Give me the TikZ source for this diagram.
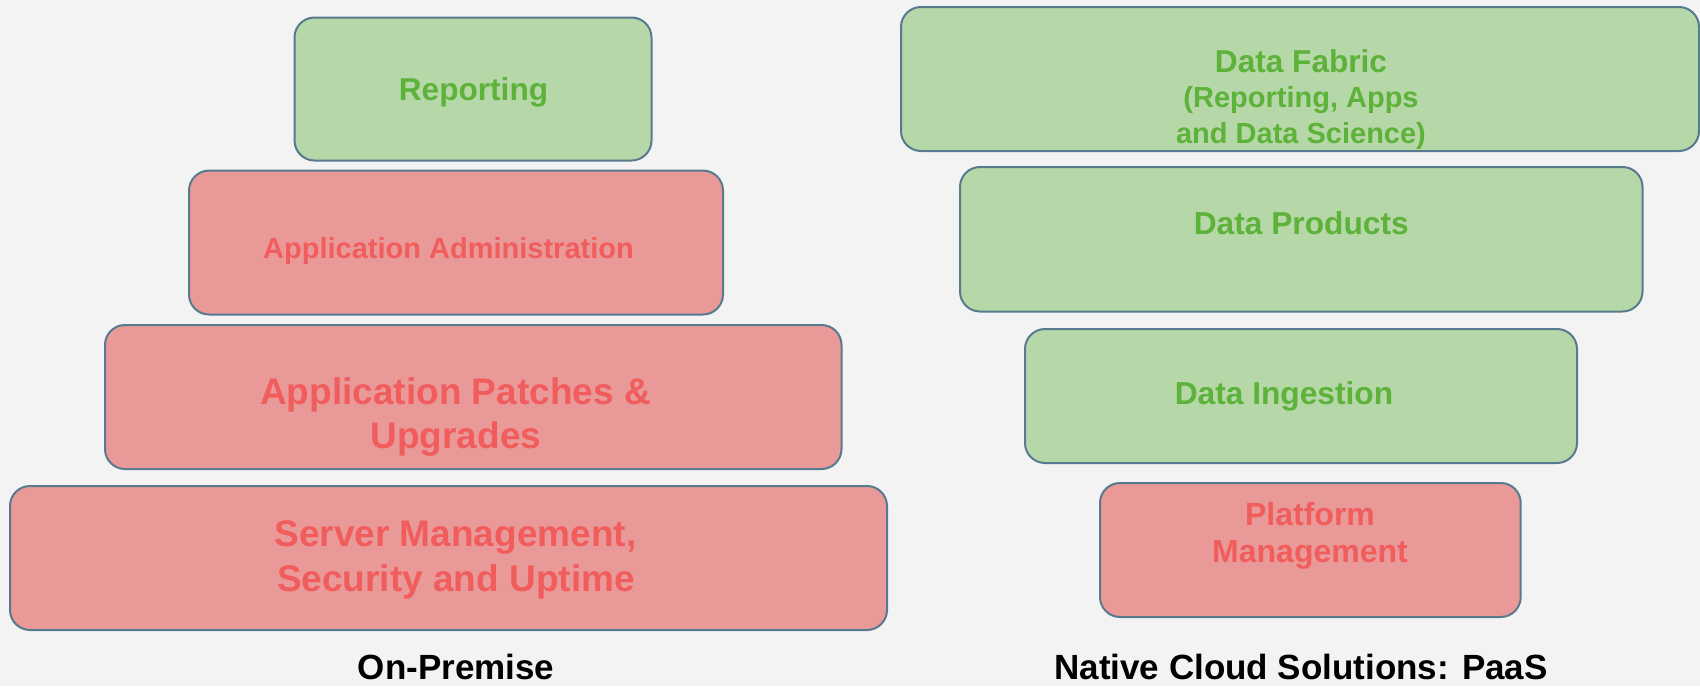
\documentclass[tikz,border=0pt]{standalone}
\usepackage{fontspec}
\setmainfont{Liberation Sans}
\usetikzlibrary{fit}
\definecolor{bgc}{HTML}{F3F3F3}
\definecolor{greenfill}{HTML}{B6D7A8}
\definecolor{redfill}{HTML}{EA9999}
\definecolor{greentext}{HTML}{5DB239}
\definecolor{redtext}{HTML}{F15C5C}
\definecolor{edge}{HTML}{587A8E}
\newcommand{\fs}[1]{\fontsize{#1}{#1}\selectfont\bfseries}
\tikzset{
  layer/.style={draw=edge, line width=2pt, rounded corners=20pt, inner sep=0pt},
  goodlayer/.style={layer, fill=greenfill},
  badlayer/.style={layer, fill=redfill},
  gtxt/.style={anchor=base, inner sep=0pt, text=greentext},
  rtxt/.style={anchor=base, inner sep=0pt, text=redtext},
  caption/.style={anchor=base, inner sep=0pt, text=black}
}
\begin{document}
\begin{tikzpicture}[x=1pt,y=-1pt]
\fill[bgc] (0,0) rectangle (1700,686);
\useasboundingbox (0,0) rectangle (1700,686);

% On-Premise stack
\node[goodlayer, fit={(294.5,17.5) (651.5,160.5)}] (rep) {};
\node[badlayer, fit={(189,170.6) (723,314.5)}] (admin) {};
\node[badlayer, fit={(105,325) (841.5,469)}] (patch) {};
\node[badlayer, fit={(10,486) (887,630)}] (server) {};

\node[gtxt] (repT) at (473.5,100) {\fs{31.6}Reporting};
\node[rtxt] (adminT) at (448.5,258) {\fs{29}Application Administration};
\node[rtxt] (patchT1) at (455.5,404.6) {\fs{37}Application Patches \&};
\node[rtxt] (patchT2) at (456,448.4) {\fs{37}Upgrades};
\node[rtxt] (serverT1) at (455.5,546.8) {\fs{37}Server Management,};
\node[rtxt] (serverT2) at (456,591.4) {\fs{37}Security and Uptime};

\node[caption] (onprem) at (456,679) {\fs{35}On-Premise};

% Native cloud stack
\node[goodlayer, fit={(901,7) (1699,151)}] (fabric) {};
\node[goodlayer, fit={(960,167) (1642.5,311.5)}] (products) {};
\node[goodlayer, fit={(1025,329) (1577,463)}] (ingest) {};
\node[badlayer, fit={(1100,483) (1520.7,617)}] (platform) {};

\node[gtxt] (fabricT1) at (1301,72) {\fs{31.6}Data Fabric};
\node[gtxt] (fabricT2) at (1301,107) {\fs{29}(Reporting, Apps};
\node[gtxt] (fabricT3) at (1301,143) {\fs{29}and Data Science)};
\node[gtxt] (productsT) at (1301.3,234) {\fs{31.7}Data Products};
\node[gtxt] (ingestT) at (1284,404) {\fs{31.7}Data Ingestion};
\node[rtxt] (platformT1) at (1310,525) {\fs{32}Platform};
\node[rtxt] (platformT2) at (1310,562) {\fs{32}Management};

\node[caption] (cloud) at (1301,679) {\fs{35}Native Cloud Solutions: PaaS};
\end{tikzpicture}
\end{document}
